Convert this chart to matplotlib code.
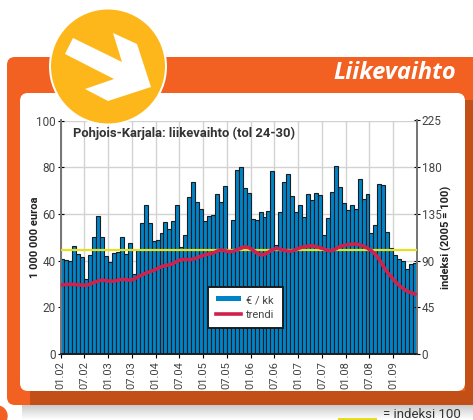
import numpy as np
import matplotlib
matplotlib.use('Agg')
import matplotlib.pyplot as plt
from matplotlib.patches import FancyBboxPatch, Rectangle, Circle, Polygon

# *** data ***
liikevaihto = [40.5, 40.3, 40.0, 46.4, 43.0, 41.5, 32.0, 42.5, 50.0, 59.3,
               50.0, 42.0, 39.5, 43.3, 43.8, 50.0, 42.7, 47.5, 34.3, 44.5,
               56.0, 64.0, 56.0, 48.5, 48.7, 52.0, 56.7, 53.5, 57.0, 64.0,
               46.0, 51.0, 67.2, 73.5, 65.2, 62.3, 57.0, 59.0, 59.5, 68.5,
               65.0, 72.0, 45.0, 57.3, 78.9, 79.9, 71.0, 68.9, 57.7, 57.3,
               60.7, 58.7, 61.3, 78.3, 46.6, 60.7, 73.6, 76.9, 67.7, 60.7,
               63.9, 58.7, 68.4, 66.0, 69.0, 68.0, 51.0, 58.4, 69.4, 80.4,
               71.6, 64.7, 61.7, 63.7, 62.0, 74.9, 66.3, 68.6, 51.7, 55.4,
               72.9, 72.4, 52.1, 45.6, 42.4, 40.6, 40.0, 36.4, 38.7, 39.0]
trendi = [66.6, 67.0, 67.3, 67.0, 66.6, 66.4, 66.2, 67.5, 69.0, 70.4,
          71.3, 70.6, 70.2, 70.2, 71.1, 72.0, 71.6, 71.1, 72.0, 74.3,
          76.0, 77.9, 79.2, 80.6, 82.4, 84.2, 85.3, 86.0, 87.3, 89.6,
          90.9, 91.1, 90.9, 91.4, 92.7, 94.3, 95.6, 96.3, 97.2, 99.0,
          100.4, 99.5, 98.6, 98.8, 100.4, 101.9, 103.3, 102.6, 100.4, 97.4,
          95.4, 95.9, 98.1, 100.6, 101.7, 101.0, 99.9, 99.0, 99.2, 100.8,
          102.4, 103.3, 104.0, 104.4, 103.5, 102.4, 101.3, 99.7, 99.5, 101.3,
          103.5, 104.6, 105.3, 105.8, 106.0, 105.3, 104.0, 101.9, 99.5, 96.0,
          91.0, 84.4, 78.8, 74.3, 69.8, 66.2, 63.0, 60.5, 59.0, 57.6]
kuukausi_labels = ['01.02', '07.02', '01.03', '07.03', '01.04', '07.04', '01.05', '07.05',
                   '01.06', '07.06', '01.07', '07.07', '01.08', '07.08', '01.09']
vasen_ticks = [0, 20, 40, 60, 80, 100]
oikea_ticks = [0, 45, 90, 135, 180, 225]
indeksi_taso = 100

plt.rcParams['font.family'] = ['Roboto', 'DejaVu Sans']
W, H = 473, 420
fig = plt.figure(figsize=(W / 100, H / 100), dpi=100, facecolor='white')

# *** background frame, in pixel coordinates ***
bg = fig.add_axes([0, 0, 1, 1], zorder=0)
bg.set_xlim(0, W)
bg.set_ylim(H, 0)
bg.axis('off')

varjo = np.linspace(0.78, 1, 32).reshape(-1, 1)
bg.imshow(varjo, cmap='gray', vmin=0, vmax=1, extent=(22, W, 420, 404), aspect='auto', zorder=1)
bg.set_xlim(0, W)
bg.set_ylim(H, 0)
bg.add_patch(Circle((-3, 416), 10, color='#f26122', zorder=1))
kehys = FancyBboxPatch((13, 63), W + 20, 336, boxstyle='round,pad=6,rounding_size=8',
                       fc='#f26122', ec='none', zorder=2)
bg.add_patch(kehys)
tumma1 = Rectangle((30, 391), W, 16, fc='#c24f15', ec='none', zorder=3)
tumma2 = Rectangle((465, 100), 10, 300, fc='#c24f15', ec='none', zorder=3)
bg.add_patch(tumma1)
bg.add_patch(tumma2)
tumma1.set_clip_path(kehys)
tumma2.set_clip_path(kehys)
bg.add_patch(FancyBboxPatch((26, 99), 433, 286, boxstyle='round,pad=6,rounding_size=8',
                            fc='white', ec='none', zorder=4))
bg.text(456, 73, 'Liikevaihto', color='white', fontsize=17, fontweight='bold', style='italic',
        family=['Open Sans', 'DejaVu Sans'], ha='right', va='center', zorder=5)
bg.add_patch(Rectangle((338, 417.5), 39, 2.5, fc='#e8dc20', ec='none', zorder=5))
bg.text(383, 414, '= indeksi 100', color='#333333', fontsize=9.5, ha='left', va='center', zorder=5)

# *** bars and left axis ***
ax = fig.add_axes([60.5 / W, 1 - 354 / H, 356.5 / W, 233.5 / H], zorder=1)
ax.patch.set_alpha(0)
kuukaudet = np.arange(len(liikevaihto))
pylvaat = ax.bar(kuukaudet, liikevaihto, width=1, align='edge', color='#0084c9',
                 edgecolor='#1c1c1c', linewidth=0.8, zorder=2, label='€ / kk')
ax.set_xlim(0, len(liikevaihto))
ax.set_ylim(0, 100)
ax.set_xticks(np.arange(len(kuukausi_labels)) * 6)
ax.set_xticklabels(kuukausi_labels, rotation=90, fontsize=8, color='#444444')
ax.set_yticks(vasen_ticks)
ax.tick_params(axis='y', direction='inout', length=5, width=0.8, labelsize=8.5, labelcolor='#444444', pad=1)
ax.tick_params(axis='x', direction='out', length=3, width=0.8, pad=2)
ax.grid(True, color='#d2d2d2', linewidth=1, zorder=0)
ax.set_axisbelow(True)
ax.set_ylabel('1 000 000 euroa', fontsize=8, fontweight='bold', color='#222222', labelpad=-3)
ax.text(0.034, 0.945, 'Pohjois-Karjala: liikevaihto (tol 24-30)', transform=ax.transAxes,
        fontsize=9.4, fontweight='bold', color='#333333', ha='left', va='center', zorder=6)

# *** index line and trend on the right axis ***
ax2 = ax.twinx()
ax2.set_ylim(0, 225)
ax2.set_yticks(oikea_ticks)
ax2.tick_params(axis='y', direction='inout', length=5, width=0.8, labelsize=8.5, labelcolor='#444444', pad=1)
ax2.axhline(indeksi_taso, color='#e6e022', linewidth=1.6, zorder=3)
viiva, = ax2.plot(kuukaudet + 0.5, trendi, color='#d0214d', linewidth=2.6, zorder=4, label='trendi')
ax2.set_ylabel('indeksi (2005 = 100)', fontsize=8, fontweight='bold', color='#222222', labelpad=-1)

for a in (ax, ax2):
    a.spines['top'].set_visible(False)
    a.spines['left'].set_color('#777777')
    a.spines['left'].set_linewidth(1.4)
    a.spines['right'].set_color('#777777')
    a.spines['right'].set_linewidth(1.4)
    a.spines['bottom'].set_color('#1c1c1c')
    a.spines['bottom'].set_linewidth(1.2)

leg = ax2.legend([pylvaat, viiva], ['€ / kk', 'trendi'], loc='center left',
                 bbox_to_anchor=(147.5 / 356.5, 46.5 / 233.5), fontsize=8, frameon=True,
                 fancybox=False, framealpha=1, facecolor='white', edgecolor='#1c1c1c',
                 borderpad=0.75, labelspacing=0.4, handlelength=2.2, handletextpad=0.5,
                 borderaxespad=0)
leg.get_frame().set_linewidth(1.4)
leg.set_zorder(10)
for t in leg.get_texts():
    t.set_color('#444444')
leg.legend_handles[0].set_edgecolor('none')
leg.legend_handles[0].set_height(4)
leg.legend_handles[0].set_y(1.5)

# *** round badge with the arrow, on top of the chart ***
fg = fig.add_axes([0, 0, 1, 1], zorder=5)
fg.set_xlim(0, W)
fg.set_ylim(H, 0)
fg.axis('off')
fg.add_patch(Circle((108, 66.5), 59, fc='white', ec='none'))
fg.add_patch(Circle((108, 66.5), 57, fc='#fdb71a', ec='none'))
fg.add_patch(Polygon([(73, 38), (122, 62), (113, 33), (137, 44), (151, 87), (108, 101),
                      (85, 89), (114, 79), (65, 54)], closed=True, fc='white', ec='none'))

fig.savefig('out.png', dpi=100, facecolor='white')
